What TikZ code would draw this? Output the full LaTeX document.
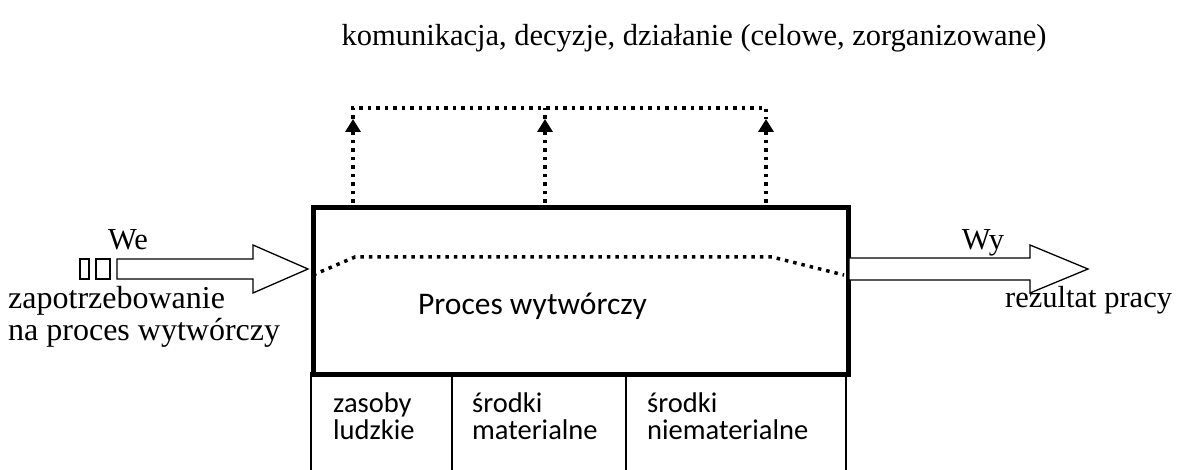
\documentclass[tikz,border=0pt]{standalone}
\usepackage{fontspec}
\setmainfont{Liberation Serif}
\newfontfamily\calib{Carlito}
\usetikzlibrary{arrows.meta}
\begin{document}
\begin{tikzpicture}[x=1pt,y=-1pt,
  serif/.style={font=\fontsize{30.5}{32}\selectfont, inner sep=0pt},
  sans/.style={font=\calib\fontsize{28.5}{27}\selectfont, inner sep=0pt},
  dots/.style={line width=3.5pt, dash pattern=on 3.5pt off 5pt},
  hollow/.style={draw, line width=1.3pt, fill=white},
  colline/.style={line width=1.3pt},
  uparrow/.style={-{Triangle[length=13pt,width=15pt]}}
]
\useasboundingbox (0,0) rectangle (1183,470);
% main box
\node[draw, line width=5pt, minimum width=535pt, minimum height=167pt, inner sep=0pt, anchor=north west] (proc) at (311,205) {};
\node[sans, anchor=base west, font=\calib\fontsize{31.5}{36}\selectfont] (proclbl) at (418,314) {Proces wytwórczy};
% columns
\coordinate (c0t) at (311,372); \coordinate (c0b) at (311,472);
\coordinate (c1t) at (452,372); \coordinate (c1b) at (452,472);
\coordinate (c2t) at (626,372); \coordinate (c2b) at (626,472);
\coordinate (c3t) at (846,372); \coordinate (c3b) at (846,472);
\draw[colline] (c0t) -- (c0b);
\draw[colline] (c1t) -- (c1b);
\draw[colline] (c2t) -- (c2b);
\draw[colline] (c3t) -- (c3b);
\node[sans, anchor=base west, align=left] (zas) at (333,439) {zasoby\\ludzkie};
\node[sans, anchor=base west, align=left] (mat) at (472,439) {środki\\materialne};
\node[sans, anchor=base west, align=left] (niemat) at (647,439) {środki\\niematerialne};
% inner dotted line
\coordinate (d0) at (313,275); \coordinate (d1) at (355,257);
\coordinate (d2) at (772,257); \coordinate (d3) at (844,275);
\draw[dots] (d0) -- (d1) -- (d2) -- (d3);
% feedback dotted arrows
\coordinate (a1b) at (353,203); \coordinate (a1m) at (353,119); \coordinate (a1t) at (353,108);
\coordinate (a2b) at (545,203); \coordinate (a2m) at (545,119); \coordinate (a2t) at (545,108);
\coordinate (a3b) at (766,203); \coordinate (a3m) at (766,119); \coordinate (a3t) at (766,108);
\draw[dots] (a1m) -- (a1t) -- (a3t) -- (a3m);
\draw[dots] (a2m) -- (a2t);
\draw[dots, uparrow] (a1b) -- (a1m);
\draw[dots, uparrow] (a2b) -- (a2m);
\draw[dots, uparrow] (a3b) -- (a3m);
\node[serif, anchor=base] (top) at (694,46) {komunikacja, decyzje, działanie (celowe, zorganizowane)};
% input arrow
\draw[hollow] (80,259) rectangle (89,279);
\draw[hollow] (96,259) rectangle (110,279);
\draw[hollow] (117,259) -- (253,259) -- (253,245) -- (308,269) -- (253,293) -- (253,279) -- (117,279) -- cycle;
\node[serif, anchor=base] (we) at (128,250) {We};
\node[serif, anchor=base west, align=left, font=\fontsize{32}{32}\selectfont] (zap) at (8,340) {zapotrzebowanie\\na proces wytwórczy};
% output arrow
\draw[hollow] (849,258) -- (1030,258) -- (1030,245) -- (1088,269) -- (1030,293) -- (1030,280) -- (849,280) -- cycle;
\node[serif, anchor=base] (wy) at (983,250) {Wy};
\node[serif, anchor=base west] (rez) at (1005,308) {rezultat pracy};
\end{tikzpicture}
\end{document}
